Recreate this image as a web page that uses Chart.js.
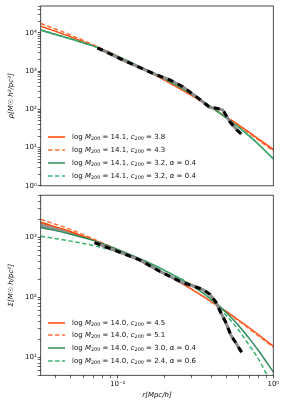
<!DOCTYPE html>
<html>
<head>
<meta charset="utf-8">
<script src="https://cdn.jsdelivr.net/npm/chart.js@4.4.1/dist/chart.umd.min.js"></script>
<style>
  html, body { margin: 0; padding: 0; background: #fff; }
  #wrap { position: relative; width: 287px; height: 409px; overflow: hidden; font-family: 'DejaVu Sans', sans-serif; }
  #c1 { position: absolute; left: 0; top: 0; }
  #c2 { position: absolute; left: 0; top: 190px; }
  .leg { position: absolute; left: 0; top: 0; font-size: 7px; color: #111; }
  .leg .row { position: absolute; left: 48px; height: 10px; display: flex; align-items: center; white-space: nowrap; }
  .leg span { margin-left: 7px; }
  .leg sub { font-size: 70%; vertical-align: -1px; line-height: 0; }
</style>
</head>
<body>
<div id="wrap">
  <canvas id="c1" width="287" height="191"></canvas>
  <canvas id="c2" width="287" height="219"></canvas>
  <div class="leg" id="leg1"></div>
  <div class="leg" id="leg2"></div>
</div>
<script>
// radius grid for the model curves (Mpc/h)
const rGrid = [0.032, 0.05, 0.07, 0.1, 0.15, 0.2, 0.3, 0.4, 0.5, 0.6, 0.7, 0.8, 1.0];

// upper panel: 3D density
const rhoNfwA = [14900, 7820, 4530, 2390, 1080, 583, 229, 112, 62.2, 38.3, 24.9, 16.9, 8.85];
const rhoNfwB = [17500, 8690, 4810, 2440, 1080, 583, 224, 109, 60.1, 36.5, 23.5, 15.8, 8.1];
const rhoEinA = [11580, 6870, 4460, 2420, 1118, 626, 249, 114, 58.7, 33.6, 20.2, 12.4, 5.07];
const rhoEinB = [11950, 6980, 4490, 2425, 1118, 626, 249, 114, 58.5, 33.4, 20.0, 12.3, 5.0];
const rhoDataR = [0.074, 0.089, 0.11, 0.138, 0.173, 0.216, 0.262, 0.337, 0.39, 0.43, 0.474, 0.526, 0.58, 0.627];
const rhoData = [4000, 2840, 1870, 1250, 830, 585, 388, 181, 112, 107, 95, 47, 29.5, 22];

// lower panel: surface density
const sigNfwA = [1770, 1233, 894, 608, 369, 248, 135, 84.5, 57.4, 41.3, 31.0, 23.9, 15.3];
const sigNfwB = [1980, 1337, 931, 618, 372, 248, 134, 83, 55.9, 39.9, 29.8, 22.9, 14.6];
const sigEinA = [1452, 1119, 875, 627, 401, 280, 156, 91.9, 55.2, 33.6, 20.6, 13.1, 5.7];
const sigEinB = [1038, 859, 723, 567, 386, 279, 158, 90.1, 49.2, 28.1, 15.8, 9.5, 3.1];
const sigDataR = [0.071, 0.1, 0.139, 0.186, 0.262, 0.304, 0.352, 0.391, 0.427, 0.46, 0.495, 0.533, 0.574, 0.627];
const sigData = [810, 580, 415, 270, 174, 155, 134, 112, 83, 55, 38, 23.5, 17.4, 12];
const bandR = [0.032, 0.04, 0.05, 0.06, 0.07];
const bandHi = [1770, 1480, 1233, 1040, 894];
const bandLo = [1452, 1270, 1119, 990, 880];

// ticks
const xMajor = [0.1, 1];
const xLabels = ['10⁻¹', '10⁰'];
const rhoMajor = [1, 10, 100, 1000, 10000];
const rhoLabels = ['10⁰', '10¹', '10²', '10³', '10⁴'];
const sigMajor = [10, 100, 1000];
const sigLabels = ['10¹', '10²', '10³'];

const legTop = [
  'log <i>M</i><sub>200</sub> = 14.1, <i>c</i><sub>200</sub> = 3.8',
  'log <i>M</i><sub>200</sub> = 14.1, <i>c</i><sub>200</sub> = 4.3',
  'log <i>M</i><sub>200</sub> = 14.1, <i>c</i><sub>200</sub> = 3.2, <i>α</i> = 0.4',
  'log <i>M</i><sub>200</sub> = 14.1, <i>c</i><sub>200</sub> = 3.2, <i>α</i> = 0.4'
];
const legBot = [
  'log <i>M</i><sub>200</sub> = 14.0, <i>c</i><sub>200</sub> = 4.5',
  'log <i>M</i><sub>200</sub> = 14.0, <i>c</i><sub>200</sub> = 5.1',
  'log <i>M</i><sub>200</sub> = 14.0, <i>c</i><sub>200</sub> = 3.0, <i>α</i> = 0.4',
  'log <i>M</i><sub>200</sub> = 14.0, <i>c</i><sub>200</sub> = 2.4, <i>α</i> = 0.6'
];

const RED = '#ff4500', RED2 = '#ff6f3f', GREEN = '#2e8b57', GREEN2 = '#3cb371';
const DASH = [4.5, 2.5];
const styles = [
  { color: RED, dash: [] },
  { color: RED2, dash: DASH },
  { color: GREEN, dash: [] },
  { color: GREEN2, dash: DASH }
];

Chart.defaults.font.family = "'DejaVu Sans', sans-serif";
Chart.defaults.font.size = 7;
Chart.defaults.color = '#111';

function pts(xs, ys) {
  return xs.map((x, i) => ({ x: x, y: ys[i] }));
}

function tickList(lo, hi) {
  const out = [];
  for (let e = -3; e <= 5; e++) {
    for (let m = 1; m <= 9; m++) {
      const v = parseFloat((m * Math.pow(10, e)).toPrecision(3));
      if (v >= lo * 0.999 && v <= hi * 1.001) out.push(v);
    }
  }
  return out;
}

function labelFor(v, major, labels) {
  for (let i = 0; i < major.length; i++) {
    if (Math.abs(v - major[i]) / major[i] < 1e-6) return labels[i];
  }
  return '';
}

function tickColor(major) {
  return ctx => {
    const v = ctx.tick ? ctx.tick.value : null;
    return v !== null && labelFor(v, major, major.map(() => 'x')) ? '#222' : '#444';
  };
}

function model(ys, st) {
  return {
    data: pts(rGrid, ys),
    borderColor: st.color,
    borderDash: st.dash,
    borderWidth: 1.5,
    pointRadius: 0,
    fill: false,
    cubicInterpolationMode: 'monotone'
  };
}

function dataLines(xs, ys) {
  return [
    { data: pts(xs, ys), borderColor: '#000', borderDash: [6, 5], borderWidth: 3, pointRadius: 0, fill: false, borderCapStyle: 'butt' },
    { data: pts(xs, ys), borderColor: '#8a8a8a', borderWidth: 3, pointRadius: 0, fill: false }
  ];
}

const frame = {
  id: 'frame',
  afterDraw(chart) {
    const a = chart.chartArea, c = chart.ctx;
    c.save();
    c.strokeStyle = '#222';
    c.lineWidth = 0.8;
    c.strokeRect(a.left, a.top, a.right - a.left, a.bottom - a.top);
    c.restore();
  }
};

function yAxis(min, max, major, labels, title) {
  const list = tickList(min, max);
  return {
    type: 'logarithmic',
    min: min, max: max,
    afterFit: s => { s.width = 40.7; },
    afterBuildTicks: s => { s.ticks = list.map(v => ({ value: v })); },
    ticks: { autoSkip: false, padding: 1, callback: v => labelFor(v, major, labels) },
    grid: { drawOnChartArea: false, drawTicks: true, tickLength: 3, lineWidth: 0.8, color: tickColor(major) },
    border: { display: false },
    title: { display: true, text: title, font: { size: 7, style: 'italic' }, padding: { top: 7, bottom: 0 } }
  };
}

function baseOptions(scales, padding) {
  return {
    responsive: false,
    animation: false,
    layout: { padding: padding },
    plugins: { legend: { display: false }, tooltip: { enabled: false } },
    scales: scales
  };
}

// upper panel
new Chart(document.getElementById('c1'), {
  type: 'line',
  data: {
    datasets: [
      ...dataLines(rhoDataR, rhoData),
      model(rhoEinB, styles[3]),
      model(rhoEinA, styles[2]),
      model(rhoNfwB, styles[1]),
      model(rhoNfwA, styles[0])
    ]
  },
  options: baseOptions({
    x: { type: 'logarithmic', min: 0.032, max: 1, display: false },
    y: yAxis(1, 50000, rhoMajor, rhoLabels, 'ρ[M☉ h²/pc³]')
  }, { left: 0, top: 6, right: 13.7, bottom: 0.5 }),
  plugins: [frame]
});

// lower panel
const xList = tickList(0.032, 1);
new Chart(document.getElementById('c2'), {
  type: 'line',
  data: {
    datasets: [
      ...dataLines(sigDataR, sigData),
      model(sigEinB, styles[3]),
      model(sigEinA, styles[2]),
      model(sigNfwB, styles[1]),
      model(sigNfwA, styles[0]),
      { data: pts(bandR, bandHi), borderWidth: 0, pointRadius: 0, backgroundColor: 'rgba(128,128,128,0.85)', fill: '+1' },
      { data: pts(bandR, bandLo), borderWidth: 0, pointRadius: 0, fill: false }
    ]
  },
  options: baseOptions({
    x: {
      type: 'logarithmic',
      min: 0.032, max: 1,
      afterFit: s => { s.height = 33.7; },
      afterBuildTicks: s => { s.ticks = xList.map(v => ({ value: v })); },
      ticks: { autoSkip: false, maxRotation: 0, minRotation: 0, padding: 2, callback: v => labelFor(v, xMajor, xLabels) },
      grid: { drawOnChartArea: false, drawTicks: true, tickLength: 3, lineWidth: 0.8, color: tickColor(xMajor) },
      border: { display: false },
      title: { display: true, text: 'r[Mpc/h]', font: { size: 7, style: 'italic' }, padding: { top: 0, bottom: 10 } }
    },
    y: yAxis(5, 5000, sigMajor, sigLabels, 'Σ[M☉ h/pc²]')
  }, { left: 0, top: 0.5, right: 13.7, bottom: 0 }),
  plugins: [frame]
});

// legends
function buildLegend(id, labels, top, step) {
  const el = document.getElementById(id);
  labels.forEach((txt, i) => {
    const st = styles[i];
    const row = document.createElement('div');
    row.className = 'row';
    row.style.top = (top + i * step - 5) + 'px';
    row.innerHTML = '<svg width="17" height="10"><line x1="0" y1="5" x2="17" y2="5" stroke="' + st.color +
      '" stroke-width="1.5" stroke-dasharray="' + (st.dash.length ? st.dash.join(',') : 'none') + '"/></svg><span>' + txt + '</span>';
    el.appendChild(row);
  });
}
buildLegend('leg1', legTop, 136.7, 13.1);
buildLegend('leg2', legBot, 322.7, 12.7);
</script>
</body>
</html>
